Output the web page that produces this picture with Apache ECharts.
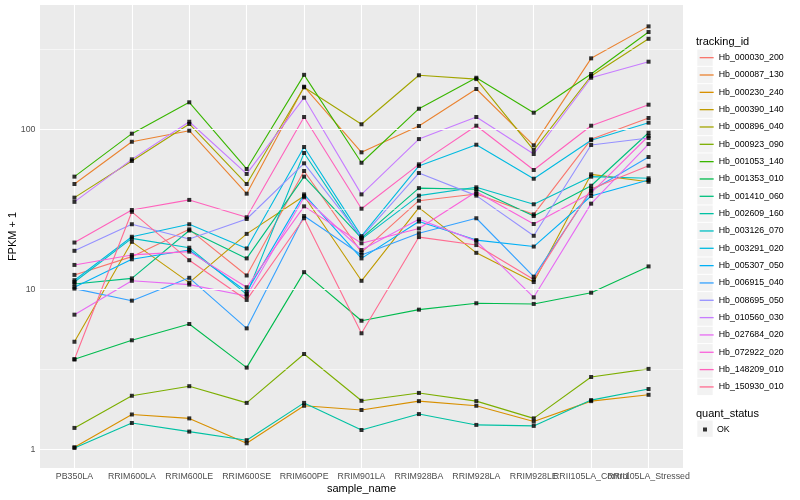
<!DOCTYPE html>
<html><head><meta charset="utf-8">
<script src="https://cdn.jsdelivr.net/npm/echarts@6/dist/echarts.min.js"></script>
<style>html,body{margin:0;padding:0;background:#fff}#c{width:800px;height:500px}</style>
</head><body><div id="c"></div>
<script>
const categories = ['PB350LA','RRIM600LA','RRIM600LE','RRIM600SE','RRIM600PE','RRIM901LA','RRIM928BA','RRIM928LA','RRIM928LE','RRII105LA_Control','RRII105LA_Stressed'];
const yTicks = [1, 10, 100];
const yMinor = [3.162, 31.62, 316.2];

const hb_000030_200 = [12.3, 16.0, 23.7, 12.2, 54.9, 17.0, 35.8, 39.4, 29.4, 86.6, 117.7];
const hb_000087_130 = [45.5, 83.6, 98, 39.6, 184.6, 71.8, 104.9, 178.6, 79.4, 277.7, 440];
const hb_000230_240 = [1.03, 1.65, 1.56, 1.09, 1.87, 1.76, 2.0, 1.87, 1.49, 2.0, 2.19];
const hb_000390_140 = [4.7, 19.8, 11.0, 22.2, 38.3, 11.3, 32.4, 16.9, 11.1, 52.3, 47.0];
const hb_000896_040 = [37.4, 63.4, 108, 45.5, 183, 107.5, 217.6, 206, 74.2, 215.3, 368];
const hb_000923_090 = [1.36, 2.16, 2.48, 1.95, 3.94, 2.01, 2.25, 2.0, 1.56, 2.83, 3.18];
const hb_001053_140 = [50.6, 93.9, 147.5, 56.5, 219, 61.8, 134.5, 210, 127, 221.6, 405.5];
const hb_001353_010 = [3.65, 4.8, 6.07, 3.24, 12.8, 6.36, 7.46, 8.18, 8.1, 9.52, 13.9];
const hb_001410_060 = [10.8, 11.7, 23.3, 15.6, 50.6, 20.9, 42.9, 42.2, 28.7, 44.4, 95.2];
const hb_002609_160 = [1.02, 1.46, 1.29, 1.14, 1.95, 1.32, 1.66, 1.42, 1.40, 2.03, 2.38];
const hb_003126_070 = [11.1, 20.8, 18.2, 9.3, 71.1, 20.6, 38.5, 43.4, 34.0, 50.6, 49.4];
const hb_003291_020 = [11.4, 21.3, 25.5, 18.0, 77.5, 21.5, 59.0, 80.1, 49.1, 85.5, 110];
const hb_005307_050 = [10.3, 15.4, 17.6, 9.66, 39.2, 15.6, 26.5, 20.3, 18.5, 38.3, 48.2];
const hb_006915_040 = [10.1, 8.49, 11.8, 5.7, 28.7, 16.4, 22.4, 27.8, 12.0, 41.3, 67.1];
const hb_008695_050 = [17.4, 25.5, 20.6, 27.5, 61.3, 21.1, 53.3, 38.5, 21.6, 79.8, 88.2];
const hb_010560_030 = [35.2, 64.9, 111.5, 52.6, 157.6, 39.2, 86.9, 119.4, 70.1, 210.1, 264.6];
const hb_027684_020 = [6.94, 11.3, 10.7, 9.08, 37.6, 17.6, 27.4, 20.0, 8.91, 34.3, 80.9];
const hb_072922_020 = [14.2, 16.4, 17.2, 10.3, 33.0, 19.4, 24.0, 40.7, 25.6, 40.0, 90.8];
const hb_148209_010 = [19.6, 31.3, 36.2, 28.2, 119.4, 31.9, 60.4, 105.3, 55.7, 105.3, 142.5];
const hb_150930_010 = [3.65, 30.5, 15.2, 8.58, 27.8, 5.31, 21.2, 18.9, 11.5, 42.4, 59.2];

const trackingIds = ['Hb_000030_200','Hb_000087_130','Hb_000230_240','Hb_000390_140','Hb_000896_040','Hb_000923_090','Hb_001053_140','Hb_001353_010','Hb_001410_060','Hb_002609_160','Hb_003126_070','Hb_003291_020','Hb_005307_050','Hb_006915_040','Hb_008695_050','Hb_010560_030','Hb_027684_020','Hb_072922_020','Hb_148209_010','Hb_150930_010'];
const seriesValues = [hb_000030_200, hb_000087_130, hb_000230_240, hb_000390_140, hb_000896_040, hb_000923_090, hb_001053_140, hb_001353_010, hb_001410_060, hb_002609_160, hb_003126_070, hb_003291_020, hb_005307_050, hb_006915_040, hb_008695_050, hb_010560_030, hb_027684_020, hb_072922_020, hb_148209_010, hb_150930_010];
const quantStatus = ['OK'];

const palette = ['#F8766D','#EA8331','#D89000','#C09B00','#A3A500','#7CAE00','#39B600','#00BB4E','#00BF7D','#00C1A3','#00BFC4','#00BAE0','#00B0F6','#35A2FF','#9590FF','#C77CFF','#E76BF3','#FA62DB','#FF62BC','#FF6C91'];

const FONT = '"Liberation Sans", Arial, Helvetica, sans-serif';
const L = v => Math.log10(v);
const catIdx = categories.map((c, i) => i);
const evenIdx = catIdx.filter(i => i % 2 === 0);
const oddIdx = catIdx.filter(i => i % 2 === 1);

const lineSeries = trackingIds.map((id, k) => ({
  name: id, type: 'line', symbol: 'none', z: 3, silent: true, animation: false,
  data: seriesValues[k].map((v, i) => [i, L(v)]),
  lineStyle: { color: palette[k], width: 1.1 },
  itemStyle: { color: palette[k] }
}));

const pts = [];
seriesValues.forEach(arr => arr.forEach((v, i) => pts.push([i, L(v)])));
const pointSeries = { name: quantStatus[0], type: 'scatter', symbol: 'rect', symbolSize: 4, data: pts, itemStyle: { color: '#000' }, z: 5, silent: true, animation: false };

const gl = [];
yMinor.forEach(v => gl.push({ yAxis: L(v), lineStyle: { color: '#fff', width: 0.55, type: 'solid' } }));
yTicks.forEach(v => gl.push({ yAxis: L(v), lineStyle: { color: '#fff', width: 1.1, type: 'solid' } }));
catIdx.forEach(i => gl.push({ xAxis: i, lineStyle: { color: '#fff', width: 1.1, type: 'solid' } }));
const gridSeries = {
  name: '_grid', type: 'line', data: [[0, 0]], symbol: 'none', lineStyle: { opacity: 0 }, z: 1, silent: true, animation: false,
  markLine: { silent: true, symbol: ['none', 'none'], label: { show: false }, animation: false, emphasis: { disabled: true }, data: gl }
};

const rowH = 17.33;
const keyRects = [];
trackingIds.forEach((id, i) => keyRects.push({ type: 'rect', left: 697.3, top: 49 + i * rowH + 0.5, shape: { width: 15.4, height: rowH - 1 }, style: { fill: '#F2F2F2' }, z: 0 }));
keyRects.push({ type: 'rect', left: 697.3, top: 420.5, shape: { width: 15.4, height: rowH - 1 }, style: { fill: '#F2F2F2' }, z: 0 });

const labelStyle = { formatter: v => categories[Math.round(v)], fontSize: 8.8, color: '#4D4D4D', margin: 4.5, fontFamily: FONT, hideOverlap: false, showMinLabel: true, showMaxLabel: true };

const chart = echarts.init(document.getElementById('c'), null, { renderer: 'canvas' });
chart.setOption({
  animation: false,
  backgroundColor: '#fff',
  textStyle: { fontFamily: FONT },
  title: [
    { text: 'tracking_id', left: 696, top: 36, padding: 0, textStyle: { fontSize: 11, fontWeight: 'normal', color: '#000', fontFamily: FONT } },
    { text: 'quant_status', left: 696, top: 408, padding: 0, textStyle: { fontSize: 11, fontWeight: 'normal', color: '#000', fontFamily: FONT } }
  ],
  grid: { left: 40, right: 117, top: 5, bottom: 32, show: true, backgroundColor: '#EBEBEB', borderWidth: 0, outerBoundsMode: 'none' },
  xAxis: [{
    type: 'value', min: -0.6, max: 10.6, position: 'bottom',
    axisLine: { show: false }, splitLine: { show: false },
    axisTick: { show: true, length: 2.7, lineStyle: { color: '#333', width: 1 }, customValues: catIdx },
    axisLabel: Object.assign({ customValues: evenIdx }, labelStyle),
    name: 'sample_name', nameLocation: 'middle', nameGap: 15, nameMoveOverlap: false, nameTextStyle: { fontSize: 11, color: '#000', fontFamily: FONT, verticalAlign: 'top' }
  }, {
    type: 'value', min: -0.6, max: 10.6, position: 'bottom', offset: 0,
    axisLine: { show: false }, splitLine: { show: false }, axisTick: { show: false },
    axisLabel: Object.assign({ customValues: oddIdx }, labelStyle)
  }],
  yAxis: {
    type: 'value', min: -0.117, max: 2.777,
    axisLine: { show: false }, splitLine: { show: false },
    axisTick: { show: true, length: 2.7, lineStyle: { color: '#333', width: 1 }, customValues: yTicks.map(L) },
    axisLabel: { customValues: yTicks.map(L), formatter: v => String(Math.round(Math.pow(10, v))), fontSize: 8.8, color: '#4D4D4D', margin: 4.5, fontFamily: FONT, showMinLabel: true, showMaxLabel: true },
    name: 'FPKM + 1', nameLocation: 'middle', nameGap: 22, nameMoveOverlap: false, nameRotate: 90, nameTextStyle: { fontSize: 11, color: '#000', fontFamily: FONT }
  },
  legend: [
    { data: trackingIds, orient: 'vertical', left: 698, top: 49, itemWidth: 14, itemHeight: rowH / 0.8, itemGap: 0, padding: 0,
      textStyle: { fontFamily: FONT, fontSize: 8.8, color: '#000' }, itemStyle: { opacity: 0 }, lineStyle: { width: 1.3 }, selectedMode: false, z: 10 },
    { data: quantStatus, orient: 'vertical', left: 703, top: 425, itemWidth: 4, itemHeight: 4, itemGap: 0, padding: 0, icon: 'rect',
      textStyle: { fontFamily: FONT, fontSize: 8.8, color: '#000', padding: [0, 0, 0, 5] }, selectedMode: false, z: 10 }
  ],
  graphic: keyRects,
  series: [gridSeries].concat(lineSeries, [pointSeries])
});
</script></body></html>
